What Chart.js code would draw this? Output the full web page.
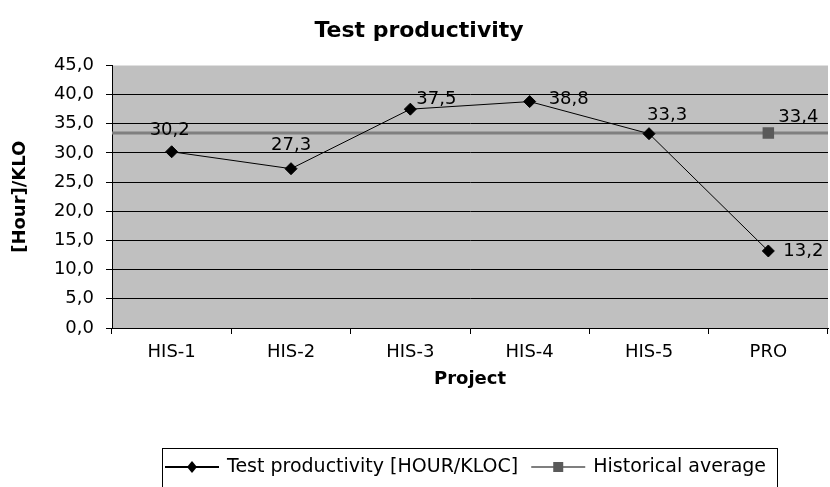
<!DOCTYPE html>
<html>
<head>
<meta charset="utf-8">
<script src="https://cdn.jsdelivr.net/npm/chart.js@4/dist/chart.umd.min.js"></script>
<style>
  html,body{margin:0;padding:0;background:#fff;}
  #wrap{width:830px;height:487px;}
</style>
</head>
<body>
<div id="wrap"><canvas id="chart" width="830" height="487"></canvas></div>
<script>
// data
const projects = ["HIS-1","HIS-2","HIS-3","HIS-4","HIS-5","PRO"];
const productivity = [30.2, 27.3, 37.5, 38.8, 33.3, 13.2];
const historical = [null, null, null, null, null, 33.4];
const historicalAvg = 33.4;
const yTicks = [0,5,10,15,20,25,30,35,40,45];

// label nudges [dx, dy] from each point (text is left aligned)
const prodLabelOffsets = [[-22,-21],[-20,-23],[6,-10],[19,-2],[-2,-18],[15,0]];
const histLabelOffset = [10,-16];

const FONT = "'DejaVu Sans', sans-serif";
const fmt = v => v.toFixed(1).replace(".", ",");

// gray plot area
const plotBg = {
  id: "plotBg",
  beforeDraw(chart){
    const {ctx, chartArea:a} = chart;
    ctx.save();
    ctx.fillStyle = "#c0c0c0";
    ctx.fillRect(a.left, a.top, a.right - a.left, a.bottom - a.top);
    ctx.restore();
  }
};

// historical average rule across the whole plot
const avgLine = {
  id: "avgLine",
  beforeDatasetsDraw(chart){
    const {ctx, chartArea:a, scales} = chart;
    const y = scales.y.getPixelForValue(historicalAvg);
    ctx.save();
    ctx.strokeStyle = "#7f7f7f";
    ctx.lineWidth = 3;
    ctx.beginPath();
    ctx.moveTo(a.left, y);
    ctx.lineTo(a.right, y);
    ctx.stroke();
    ctx.restore();
  }
};

// value labels
const valueLabels = {
  id: "valueLabels",
  afterDatasetsDraw(chart){
    const ctx = chart.ctx;
    ctx.save();
    ctx.font = "18px " + FONT;
    ctx.fillStyle = "#000";
    ctx.textAlign = "left";
    ctx.textBaseline = "middle";
    chart.getDatasetMeta(0).data.forEach((pt, i) => {
      const o = prodLabelOffsets[i];
      ctx.fillText(fmt(productivity[i]), pt.x + o[0], pt.y + o[1]);
    });
    chart.getDatasetMeta(1).data.forEach((pt, i) => {
      if (historical[i] == null) return;
      ctx.fillText(fmt(historical[i]), pt.x + histLabelOffset[0], pt.y + histLabelOffset[1]);
    });
    ctx.restore();
  }
};

// boxed legend under the chart (box runs off the bottom edge, as in the original)
const boxLegend = {
  id: "boxLegend",
  afterDraw(chart){
    const ctx = chart.ctx;
    const items = chart.data.datasets;
    ctx.save();
    ctx.font = "19px " + FONT;
    const sym = 54, gap = 8, sep = 13, padL = 3, padR = 11;
    const left = 162, top = 448, my = 467;
    let x = left + padL;
    items.forEach((d, i) => {
      ctx.strokeStyle = d.borderColor;
      ctx.lineWidth = d.legendLineWidth;
      ctx.beginPath();
      ctx.moveTo(x, my);
      ctx.lineTo(x + sym, my);
      ctx.stroke();
      ctx.fillStyle = d.pointBackgroundColor;
      const mx = x + sym / 2;
      if (d.pointStyle === "rectRot") {
        ctx.beginPath();
        ctx.moveTo(mx, my - 6); ctx.lineTo(mx + 5, my);
        ctx.lineTo(mx, my + 6); ctx.lineTo(mx - 5, my);
        ctx.closePath(); ctx.fill();
      } else {
        ctx.fillRect(mx - 5, my - 5, 10, 10);
      }
      x += sym + gap;
      ctx.fillStyle = "#000";
      ctx.textAlign = "left";
      ctx.textBaseline = "middle";
      ctx.fillText(d.label, x, my);
      x += ctx.measureText(d.label).width + (i < items.length - 1 ? sep : 0);
    });
    ctx.strokeStyle = "#000";
    ctx.lineWidth = 1;
    ctx.strokeRect(left + 0.5, top + 0.5, Math.round(x + padR - left), 60);
    ctx.restore();
  }
};

new Chart(document.getElementById("chart"), {
  type: "line",
  data: {
    labels: projects,
    datasets: [
      {
        label: "Test productivity [HOUR/KLOC]",
        data: productivity,
        borderColor: "#000",
        borderWidth: 1,
        legendLineWidth: 2,
        pointStyle: "rectRot",
        pointRadius: 6,
        pointBackgroundColor: "#000",
        pointBorderColor: "#000",
        tension: 0
      },
      {
        label: "Historical average",
        data: historical,
        borderColor: "#7f7f7f",
        borderWidth: 3,
        legendLineWidth: 2,
        pointStyle: "rect",
        pointRadius: 6,
        pointBackgroundColor: "#5a5a5a",
        pointBorderColor: "#5a5a5a",
        showLine: false
      }
    ]
  },
  options: {
    responsive: false,
    animation: false,
    layout: { autoPadding: false, padding: { left: 10, right: 2, top: 0, bottom: 97 } },
    plugins: {
      legend: { display: false },
      tooltip: { enabled: false },
      title: {
        display: true,
        text: "Test productivity",
        color: "#000",
        font: { family: FONT, size: 22, weight: "bold" },
        padding: { top: 18, bottom: 21 }
      }
    },
    scales: {
      x: {
        offset: true,
        grid: { offset: true, drawOnChartArea: false, tickLength: 6, color: "#000", tickColor: "#000" },
        border: { color: "#000", width: 1 },
        ticks: { color: "#000", font: { family: FONT, size: 18 }, padding: 8 },
        title: { display: true, text: "Project", color: "#000", font: { family: FONT, size: 18, weight: "bold" }, padding: 0 },
        afterFit(s){ s.height = 62; s.paddingLeft = 0; s.paddingRight = 0; }
      },
      y: {
        min: 0,
        max: 45,
        afterBuildTicks(s){ s.ticks = yTicks.map(v => ({ value: v })); },
        grid: {
          color: c => (c.tick && c.tick.value === 45) ? "#e0e0e0" : "#000",
          tickColor: "#000",
          tickLength: 6,
          lineWidth: 1
        },
        border: { color: "#000", width: 1 },
        ticks: { color: "#000", font: { family: FONT, size: 18 }, padding: 12, callback: v => fmt(v) },
        title: { display: true, text: "[Hour]/KLO", color: "#000", font: { family: FONT, size: 18, weight: "bold" }, padding: 0 },
        afterFit(s){ s.width = 102; }
      }
    }
  },
  plugins: [plotBg, avgLine, valueLabels, boxLegend]
});
</script>
</body>
</html>
